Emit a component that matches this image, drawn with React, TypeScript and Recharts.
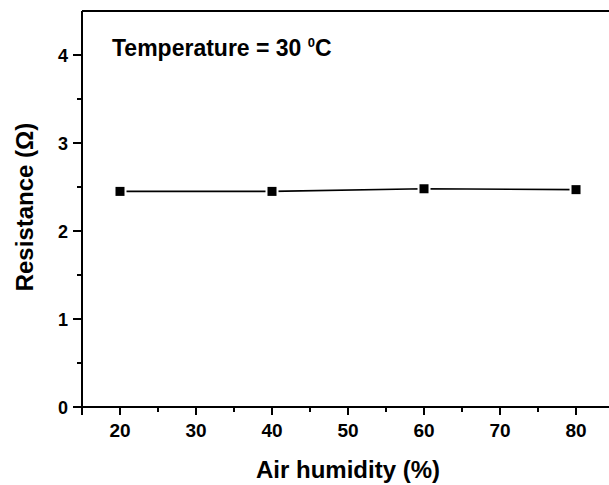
import React from 'react';
import { LineChart, Line, XAxis, YAxis, ReferenceLine, Customized } from 'recharts';

const humidity = [20, 40, 60, 80];
const resistance = [2.45, 2.45, 2.48, 2.47];
const xTicks = [15, 20, 25, 30, 35, 40, 45, 50, 55, 60, 65, 70, 75, 80];
const xLabeled = [20, 30, 40, 50, 60, 70, 80];
const yTicks = [0, 0.5, 1, 1.5, 2, 2.5, 3, 3.5, 4];
const yLabeled = [0, 1, 2, 3, 4];

const data = humidity.map((h, i) => ({ h, r: resistance[i] }));
const FONT = '"Liberation Sans", Arial, Helvetica, sans-serif';

const XTick = (props: any) => {
  const { x, y, payload } = props;
  const v = payload.value;
  const major = xLabeled.includes(v) || v === 15;
  return (
    <g>
      <line x1={x} y1={y} x2={x} y2={y + (major ? 8 : 5)} stroke="#000" strokeWidth={2} />
      {xLabeled.includes(v) && (
        <text x={x} y={y + 30} textAnchor="middle" fontFamily={FONT} fontWeight="bold" fontSize={19} fill="#000">
          {v}
        </text>
      )}
    </g>
  );
};

const YTick = (props: any) => {
  const { x, y, payload } = props;
  const v = payload.value;
  const major = yLabeled.includes(v);
  return (
    <g>
      <line x1={x - (major ? 9 : 5)} y1={y} x2={x} y2={y} stroke="#000" strokeWidth={2} />
      {major && (
        <text x={x - 14} y={y + 6.5} textAnchor="end" fontFamily={FONT} fontWeight="bold" fontSize={18} fill="#000">
          {v}
        </text>
      )}
    </g>
  );
};

const Dot = (props: any) => {
  const { cx, cy, index } = props;
  if (cx == null || cy == null) return null;
  return (
    <g key={`dot-${index}`}>
      <rect x={cx - 6.5} y={cy - 6.5} width={13} height={13} fill="#fff" />
      <rect x={cx - 4.5} y={cy - 4.5} width={9} height={9} fill="#000" />
    </g>
  );
};

const Title = () => (
  <g>
    <rect x={603} y={13} width={6} height={392} fill="#fff" />
    <text x={112} y={56} fontFamily={FONT} fontWeight="bold" fontSize={23} fill="#000">
      Temperature = 30{' '}
      <tspan fontSize={13} dy={-9}>0</tspan>
      <tspan dy={9}>C</tspan>
    </text>
  </g>
);

export default function App() {
  return (
    <div style={{ position: 'absolute', left: 0, top: 0, width: 609, height: 485 }}>
      <LineChart width={609} height={485} data={data} margin={{ top: 11, right: 0, bottom: 0, left: 0 }}>
        <XAxis
          dataKey="h"
          type="number"
          domain={[15, 84.34]}
          allowDataOverflow
          ticks={xTicks}
          interval={0}
          tick={<XTick />}
          tickLine={false}
          tickSize={0}
          tickMargin={0}
          axisLine={{ stroke: '#000', strokeWidth: 2 }}
          height={78}
          label={{
            content: () => (
              <text x={348} y={478} textAnchor="middle" fontFamily={FONT} fontWeight="bold" fontSize={24} fill="#000">
                Air humidity (%)
              </text>
            ),
          }}
        />
        <YAxis
          type="number"
          domain={[0, 4.5]}
          ticks={yTicks}
          interval={0}
          tick={<YTick />}
          tickLine={false}
          tickSize={0}
          tickMargin={0}
          axisLine={{ stroke: '#000', strokeWidth: 2 }}
          width={82}
          label={{
            content: () => {
              const cx = 33;
              const cy = 207;
              return (
                <text x={cx} y={cy} transform={`rotate(-90 ${cx} ${cy})`} textAnchor="middle" fontFamily={FONT} fontWeight="bold" fontSize={24} fill="#000">
                  Resistance (Ω)
                </text>
              );
            },
          }}
        />
        <ReferenceLine y={4.5} stroke="#000" strokeWidth={2} />
        <Line dataKey="r" stroke="#000" strokeWidth={1.6} dot={<Dot />} activeDot={false} isAnimationActive={false} />
        <Customized component={Title} />
      </LineChart>
    </div>
  );
}
